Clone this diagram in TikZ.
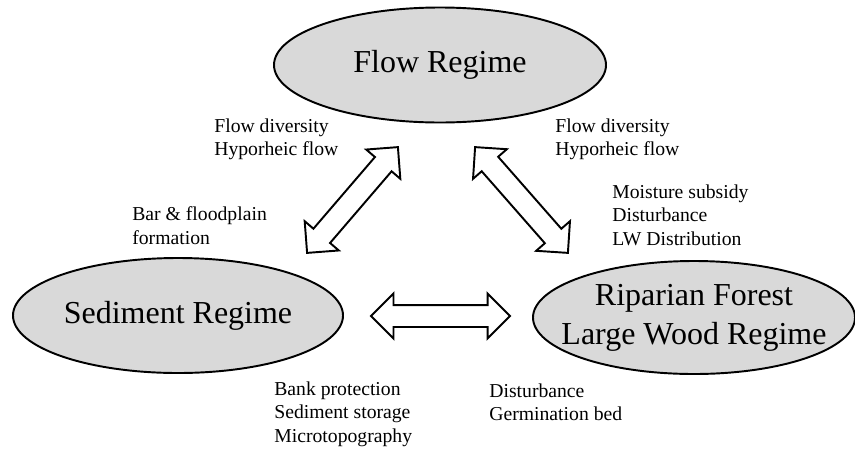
\documentclass[tikz,border=0pt]{standalone}
\usepackage{fontspec}
\setmainfont{Liberation Serif}
\usetikzlibrary{shapes,arrows.meta,positioning,calc}
\definecolor{regimegray}{RGB}{217,217,217}

\begin{document}
\begin{tikzpicture}[
    regime/.style={ellipse, draw=black, line width=1.1pt, fill=regimegray, inner sep=0pt},
    title/.style={font=\fontsize{18.2}{22.1}\selectfont, align=center},
    dblarr/.style={double arrow, draw=black, line width=1.1pt, fill=white, inner xsep=0pt, inner ysep=0.2cm,
        double arrow head extend=0.23cm, double arrow tip angle=90},
    effect/.style={font=\fontsize{11.2}{13.3}\selectfont, align=left, anchor=west, inner sep=0pt}]

    \useasboundingbox (0,0) rectangle (17.1,9.02);

    % Regimes
    \node[regime, minimum width=6.64cm, minimum height=2.3cm, label={[title]center:Flow Regime}] (flow) at (8.8,7.72) {};
    \node[regime, minimum width=6.6cm, minimum height=2.3cm, label={[title]center:Sediment Regime}] (sed) at (3.56,2.71) {};
    \node[regime, minimum width=6.44cm, minimum height=2.26cm, label={[title]center:Riparian Forest\\Large Wood Regime}] (rip) at (13.88,2.67) {};

    % Arrow ends
    \coordinate (sedA) at (6.14,3.96);
    \coordinate (flowA) at (7.96,6.08);
    \coordinate (flowB) at (9.5,6.08);
    \coordinate (ripA) at (11.36,3.96);
    \coordinate (sedB) at (7.42,2.7);
    \coordinate (ripB) at (10.2,2.7);

    % Interactions
    \path let \p1 = ($(flowA)-(sedA)$), \n1 = {atan2(\y1,\x1)}, \n2 = {veclen(\x1,\y1)} in
        node[dblarr, rotate=\n1, minimum height=\n2] (sedflow) at ($(sedA)!0.5!(flowA)$) {};
    \path let \p1 = ($(ripA)-(flowB)$), \n1 = {atan2(\y1,\x1)}, \n2 = {veclen(\x1,\y1)} in
        node[dblarr, rotate=\n1, minimum height=\n2] (flowrip) at ($(flowB)!0.5!(ripA)$) {};
    \path let \p1 = ($(ripB)-(sedB)$), \n1 = {atan2(\y1,\x1)}, \n2 = {veclen(\x1,\y1)} in
        node[dblarr, rotate=\n1, minimum height=\n2] (sedrip) at ($(sedB)!0.5!(ripB)$) {};

    % Effects
    \node[effect] (fl1) at (4.28,6.24) {Flow diversity\\Hyporheic flow};
    \node[effect] (bar) at (2.64,4.51) {Bar \& floodplain\\formation};
    \node[effect] (fl2) at (11.1,6.24) {Flow diversity\\Hyporheic flow};
    \node[effect] (moist) at (12.24,4.72) {Moisture subsidy\\Disturbance\\LW Distribution};
    \node[effect] (bank) at (5.48,0.74) {Bank protection\\Sediment storage\\Microtopography};
    \node[effect] (dist) at (9.78,0.97) {Disturbance\\Germination bed};
\end{tikzpicture}
\end{document}
